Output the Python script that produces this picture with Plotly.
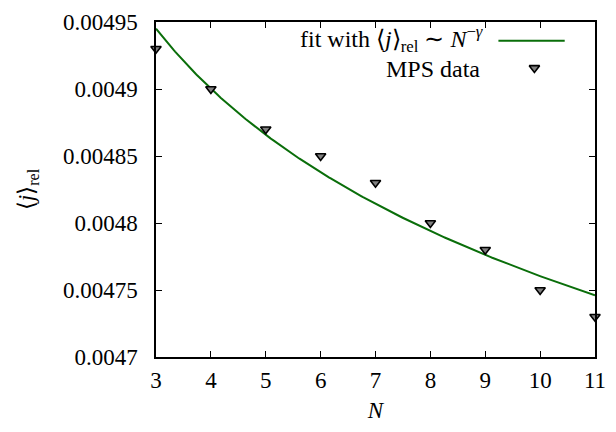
import numpy as np
import plotly.graph_objects as go

# ---- data ----
N_vals = [3, 4, 5, 6, 7, 8, 9, 10, 11]
j_rel = [0.00493, 0.00490, 0.00487, 0.00485, 0.00483, 0.00480, 0.00478, 0.00475, 0.00473]
x_ticks = [3, 4, 5, 6, 7, 8, 9, 10, 11]
y_tickvals = [0.0047, 0.00475, 0.0048, 0.00485, 0.0049, 0.00495]
y_ticktext = ["0.0047", "0.00475", "0.0048", "0.00485", "0.0049", "0.00495"]

# power-law fit <j>_rel ~ a N^-gamma (least squares in log-log)
slope, intercept = np.polyfit(np.log(N_vals), np.log(j_rel), 1)
Nf = np.linspace(min(N_vals), max(N_vals), 300)
fit = np.exp(intercept) * Nf ** slope

FONT = "'Liberation Serif', 'Times New Roman', serif"
FS = 23
GREEN = "#0a6e0a"

fig = go.Figure()
fig.add_trace(go.Scatter(x=Nf, y=fit, mode="lines",
                         line=dict(color=GREEN, width=2), showlegend=False))
fig.add_trace(go.Scatter(x=N_vals, y=j_rel, mode="markers", cliponaxis=False,
                         marker=dict(symbol="triangle-down", size=9, color="#808080",
                                     line=dict(color="black", width=1.6)),
                         showlegend=False))

# legend keys (gnuplot style: text then sample on the right)
fig.add_trace(go.Scatter(x=[0.780, 0.931], y=[0.944, 0.944], mode="lines",
                         line=dict(color=GREEN, width=2), xaxis="x2", yaxis="y2",
                         showlegend=False, hoverinfo="skip"))
fig.add_trace(go.Scatter(x=[0.862], y=[0.863], mode="markers", xaxis="x2", yaxis="y2",
                         marker=dict(symbol="triangle-down", size=9, color="#808080",
                                     line=dict(color="black", width=1.6)),
                         showlegend=False, hoverinfo="skip"))

fig.add_annotation(xref="paper", yref="paper", x=0.749, y=0.950, xanchor="right", yanchor="middle",
                   text="fit with ⟨<i>j</i>⟩<sub>rel</sub> ∼ <i>N</i><sup>−<i>γ</i></sup>",
                   showarrow=False, font=dict(family=FONT, size=24, color="black"))
fig.add_annotation(xref="paper", yref="paper", x=0.742, y=0.860, xanchor="right", yanchor="middle",
                   text="MPS data", showarrow=False,
                   font=dict(family=FONT, size=24, color="black"))

axis_common = dict(showline=True, linecolor="black", linewidth=1.5, mirror="allticks",
                   ticks="inside", ticklen=6, tickwidth=1, tickcolor="black",
                   showgrid=False, zeroline=False,
                   tickfont=dict(family=FONT, size=FS, color="black"))

fig.update_layout(
    width=616, height=432,
    margin=dict(l=156, r=10, t=15, b=75),
    paper_bgcolor="white", plot_bgcolor="white",
    font=dict(family=FONT, size=FS, color="black"),
    xaxis=dict(range=[3, 11], tickvals=x_ticks, ticktext=[str(v) for v in x_ticks],
               title=dict(text="<i>N</i>", standoff=10, font=dict(family=FONT, size=FS)),
               ticklabelstandoff=2, **axis_common),
    yaxis=dict(range=[0.0047, 0.00495], tickvals=y_tickvals, ticktext=y_ticktext,
               title=dict(text="⟨<i>j</i>⟩<sub>rel</sub>", standoff=22, font=dict(family=FONT, size=FS)),
               ticklabelstandoff=12, **axis_common),
    xaxis2=dict(overlaying="x", range=[0, 1], visible=False, anchor="y2"),
    yaxis2=dict(overlaying="y", range=[0, 1], visible=False, anchor="x2"),
)

fig.write_html("out.html")
